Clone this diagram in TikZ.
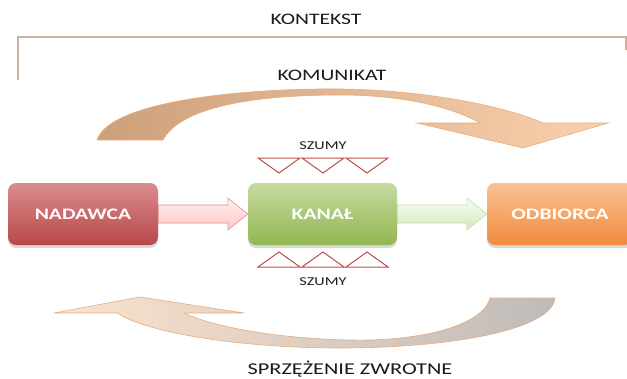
\documentclass[tikz,border=0pt]{standalone}
\usepackage{fontspec}
\setmainfont{Carlito}[FakeStretch=1.35]
\usetikzlibrary{calc,shadows}
\definecolor{redtop}{RGB}{219,140,143}
\definecolor{redbot}{RGB}{184,72,72}
\definecolor{greentop}{RGB}{198,218,160}
\definecolor{greenbot}{RGB}{145,183,80}
\definecolor{orangetop}{RGB}{251,194,146}
\definecolor{orangebot}{RGB}{240,138,62}
\definecolor{tanc}{RGB}{205,160,124}
\definecolor{grayc}{RGB}{212,208,206}
\definecolor{peachc}{RGB}{251,208,172}
\definecolor{peachlight}{RGB}{252,226,204}
\definecolor{edgec}{RGB}{233,172,124}
\definecolor{framec}{RGB}{208,176,160}
\definecolor{noisec}{RGB}{192,80,77}
\definecolor{txt}{RGB}{26,26,26}
\tikzset{
  box/.style={rounded corners=8pt, minimum height=62pt, text=white,
    font=\bfseries\fontsize{16}{18}\selectfont,
    drop shadow={shadow xshift=0pt, shadow yshift=-3pt, opacity=0.3}},
  label/.style={text=txt, inner sep=0pt},
  flowA/.style={top color=red!6, bottom color=red!22!white, draw=redtop, line width=0.6pt},
  flowB/.style={top color=green!4!white, bottom color=greentop!70!white, draw=greentop, line width=0.6pt},
  noise/.style={draw=noisec, fill=white, line width=1pt, line join=miter},
  bigarrow/.style={draw=edgec, line width=0.6pt}
}
\begin{document}
\begin{tikzpicture}[x=1pt,y=-1pt]
\useasboundingbox (0,0) rectangle (627,378);
\fill[white] (0,0) rectangle (627,378);

% context frame
\draw[framec, line width=1.2pt] (18,80) -- (18,37) -- (626,37) -- (626,50);
\node[label, font=\fontsize{16}{18}\selectfont] (kontekst) at (316,19) {KONTEKST};
\node[label, font=\fontsize{16}{18}\selectfont] (komunikat) at (332,75) {KOMUNIKAT};

% top curved arrow
\shade[bigarrow, left color=tanc, middle color=grayc, right color=peachc]
  (97,140) .. controls (110,100) and (250,88) .. (340,89)
  .. controls (430,90) and (510,108) .. (543,123) -- (608,123) -- (523,148)
  -- (417,123) -- (480,123) .. controls (450,106) and (400,95) .. (340,95)
  .. controls (250,95) and (180,108) .. (163,140) -- cycle;

% bottom curved arrow
\shade[bigarrow, left color=peachlight, middle color=peachc!85!tanc, right color=grayc!90!black]
  (490,298) -- (555,298) .. controls (552,330) and (450,348) .. (340,348)
  .. controls (230,348) and (140,330) .. (118,313) -- (54,313) -- (140,297)
  -- (244,313) -- (184,313) .. controls (220,330) and (300,341) .. (370,340)
  .. controls (440,338) and (485,320) .. (490,298) -- cycle;

% boxes
\node[box, minimum width=150pt, top color=redtop, bottom color=redbot] (nad) at (83,214) {NADAWCA};
\node[box, minimum width=149pt, top color=greentop, bottom color=greenbot] (kan) at (322.5,214) {KANAŁ};
\node[box, minimum width=146pt, top color=orangetop, bottom color=orangebot] (odb) at (560,214) {ODBIORCA};

% straight arrows
\path[flowA] ($(nad.east)+(0,-9)$) -- ($(kan.west)+(-20,-9)$) -- ($(kan.west)+(-20,-16)$)
  -- (kan.west) -- ($(kan.west)+(-20,16)$) -- ($(kan.west)+(-20,9)$) -- ($(nad.east)+(0,9)$) -- cycle;
\path[flowB] ($(kan.east)+(0,-9)$) -- ($(odb.west)+(-20,-9)$) -- ($(odb.west)+(-20,-16)$)
  -- (odb.west) -- ($(odb.west)+(-20,16)$) -- ($(odb.west)+(-20,9)$) -- ($(kan.east)+(0,9)$) -- cycle;

% noise
\node[label, font=\fontsize{12}{14}\selectfont] (szumyA) at (323,146) {SZUMY};
\node[label, font=\fontsize{12}{14}\selectfont] (szumyB) at (323,282) {SZUMY};
\foreach \a in {258,302,346}{
  \draw[noise] (\a,158) -- (\a+42,158) -- (\a+21,173) -- cycle;
  \draw[noise] (\a,267) -- (\a+42,267) -- (\a+21,252) -- cycle;
}

\node[label, font=\fontsize{16.5}{18}\selectfont] (sprz) at (350,369) {SPRZĘŻENIE ZWROTNE};
\end{tikzpicture}
\end{document}
